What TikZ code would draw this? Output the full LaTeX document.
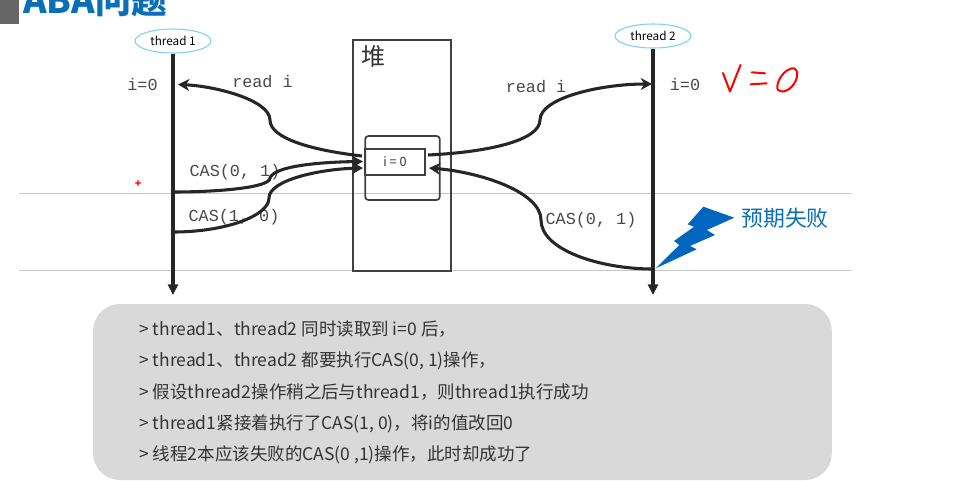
\documentclass[tikz,border=0pt]{standalone}
\usepackage{fontspec}
\setmainfont{Noto Sans CJK SC}
\newfontfamily\codefont{Liberation Mono}
\usetikzlibrary{arrows.meta, positioning, shapes.geometric}
\definecolor{slideblue}{HTML}{0B6FB8}
\definecolor{boltblue}{HTML}{0066BF}
\definecolor{ovalblue}{HTML}{7FD0F2}
\definecolor{panelgray}{HTML}{D9D9D9}
\definecolor{textdark}{HTML}{333333}
\definecolor{codegray}{HTML}{484848}

\begin{document}
\begin{tikzpicture}[
    x=0.75pt, y=-0.75pt,
    threadnode/.style={ellipse, draw=ovalblue, line width=0.8pt, fill=white, minimum width=57pt, minimum height=18pt, inner sep=0pt, font=\fontsize{8.8}{10}\selectfont},
    timeline/.style={-{Triangle[length=8pt, width=7.5pt]}, line width=2.6pt, draw=black!85},
    flow/.style={-{Stealth[length=8.5pt, width=9pt]}, line width=2.3pt, draw=black!85},
    code/.style={font=\codefont\fontsize{12.6}{14}\selectfont, text=codegray, inner sep=0pt},
    guide/.style={draw=black!22, line width=0.7pt},
    heapbox/.style={draw=black!75, line width=1.3pt},
    note/.style={anchor=base west, inner sep=0pt, text=textdark, font=\fontsize{13.12}{15}\selectfont},
    scribble/.style={draw=red, line width=1.5pt, line cap=round, line join=round}
]
\path[use as bounding box, clip] (0,0) rectangle (962,480);

% title
\fill[black!60] (0,0) rectangle (19,24);
\node[anchor=base west, inner sep=0pt, text=slideblue, font=\bfseries\fontsize{26.8}{29}\selectfont] (title) at (23,13) {ABA问题};

% guide lines
\coordinate (guideA) at (19,193.5);
\coordinate (guideAend) at (852,193.5);
\coordinate (guideB) at (19,270.5);
\coordinate (guideBend) at (852,270.5);
\draw[guide] (guideA) -- (guideAend);
\draw[guide] (guideB) -- (guideBend);

% heap
\node[heapbox, minimum width=73.5pt, minimum height=173pt, inner sep=0pt] (heap) at (402,155.5) {};
\node[font=\fontsize{18}{20}\selectfont, text=textdark, inner sep=0pt] (heaplabel) at (373.5,56) {堆};
\node[heapbox, rounded corners=2.5pt, minimum width=56pt, minimum height=48pt, inner sep=0pt] (slot) at (402.5,168) {};
\node[heapbox, minimum width=45pt, minimum height=19pt, inner sep=0pt, font=\fontsize{9.5}{11}\selectfont, text=textdark] (cell) at (395,162) {i = 0};

% labels
\node[code] (readval1) at (142.5,84) {i=0};
\node[code] (readval2) at (685,84) {i=0};
\node[code] (read1) at (262.5,82) {read i};
\node[code] (read2) at (536,87) {read i};
\node[code] (cas01) at (235,172.5) {CAS(0, 1)};
\node[code] (cas10) at (234,217.5) {CAS(1, 0)};
\node[code] (cas02) at (591,220.5) {CAS(0, 1)};

% threads
\node[threadnode] (thread1) at (173,41) {thread 1};
\node[threadnode] (thread2) at (653,36) {thread 2};
\coordinate (end1) at (173,295);
\coordinate (end2) at (653,295);
\draw[timeline] (thread1) -- (end1);
\draw[timeline] (thread2) -- (end2);

% connectors
\coordinate (heapread1) at (362,156);
\coordinate (threadread1) at (178,84.5);
\coordinate (bend1) at (270,120);
\coordinate (heapread2) at (428,155);
\coordinate (threadread2) at (652,84);
\coordinate (bend2) at (540,120);
\coordinate (casa) at (173,192);
\coordinate (bendcasa) at (270,178);
\coordinate (heapcasa) at (363,161.5);
\coordinate (casb) at (173,232);
\coordinate (bendcasb) at (269,198);
\coordinate (heapcasb) at (363,168);
\coordinate (casc) at (653,269);
\coordinate (bendcasc) at (541,220);
\coordinate (heapcasc) at (429,168);
\draw[flow] (heapread1) .. controls (310,150) and (270,138) .. (bend1) .. controls (270,100) and (215,86) .. (threadread1);
\draw[flow] (heapread2) .. controls (490,152) and (540,140) .. (bend2) .. controls (540,98) and (600,84) .. (threadread2);
\draw[flow] (casa) .. controls (215,192) and (270,188) .. (bendcasa) .. controls (274,166) and (320,162) .. (heapcasa);
\draw[flow] (casb) .. controls (225,232) and (269,216) .. (bendcasb) .. controls (269,180) and (320,169) .. (heapcasb);
\draw[flow] (casc) .. controls (600,269) and (541,250) .. (bendcasc) .. controls (541,192) and (480,172) .. (heapcasc);

% failure mark
\fill[boltblue] (655.7,268.3) -- (696.7,249.3) -- (690,246) -- (715,235) -- (706.7,230) -- (734.3,217.7) -- (703.3,206.7) -- (687.7,224.3) -- (694,226.7) -- (674,241) -- (679.3,245) -- cycle;
\node[anchor=west, inner sep=0pt, text=slideblue, font=\fontsize{16.4}{19}\selectfont] (failed) at (741,218) {预期失败};

% handwriting
\node[text=red, inner sep=0pt, font=\bfseries\fontsize{8}{9}\selectfont] (mark) at (138,184.5) {+};
\draw[scribble] (723,73) -- (730,91.5) -- (740.5,65);
\draw[scribble] (751.7,72.3) -- (765,73.3);
\draw[scribble] (750.7,84.3) -- (766.7,83.3);
\draw[scribble] (790,69) .. controls (781,72) and (775,86) .. (778,90) .. controls (782,94) and (792,90) .. (796,80) .. controls (799,72) and (796,66) .. (790,69);

% summary panel
\node[fill=panelgray, rounded corners=20pt, minimum width=554pt, minimum height=132pt, inner sep=0pt] (panel) at (462.5,392) {};
\node[note] (line1) at (139,335) {> thread1、thread2 同时读取到 i=0 后，};
\node[note] (line2) at (139,366) {> thread1、thread2 都要执行CAS(0, 1)操作，};
\node[note] (line3) at (139,398) {> 假设thread2操作稍之后与thread1，则thread1执行成功};
\node[note] (line4) at (139,429) {> thread1紧接着执行了CAS(1, 0)，将i的值改回0};
\node[note] (line5) at (139,460) {> 线程2本应该失败的CAS(0 ,1)操作，此时却成功了};
\end{tikzpicture}
\end{document}
